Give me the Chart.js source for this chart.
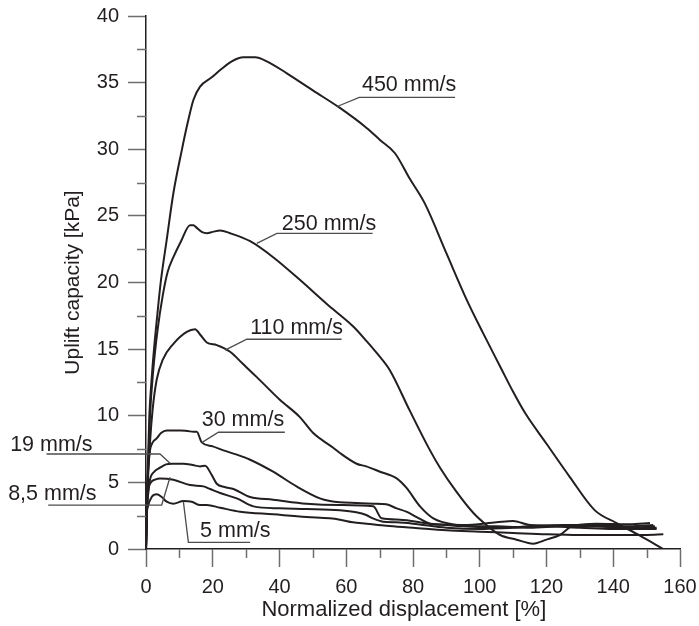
<!DOCTYPE html>
<html>
<head>
<meta charset="utf-8">
<script src="https://cdn.jsdelivr.net/npm/chart.js@4/dist/chart.umd.min.js"></script>
<style>
html,body{margin:0;padding:0;background:#fff;}
canvas{display:block;}
</style>
</head>
<body>
<canvas id="c" width="699" height="626"></canvas>
<script>
// ---- data (Normalized displacement [%] vs Uplift capacity [kPa]) ----
const x450 = [0,0.4,1.0,1.7,2.4,3.4,4.4,6.2,8.2,10.7,12.5,14.2,16.2,19.7,22.5,25.7,29.2,32.7,36.2,42.2,50.1,58.1,66.1,70.1,74.6,79,83.6,90,96.1,101,106.1,110,113.6,120,127,134.5,141,148,155];
const y450 = [0,5,10,12.8,15,17.6,20,23.2,26.7,29.9,32,33.7,34.7,35.4,36.0,36.6,36.9,36.9,36.6,35.7,34.4,33.1,31.6,30.7,29.7,27.8,25.9,22.2,18.7,16.2,13.7,11.8,10.2,7.9,5.4,2.9,1.95,1.0,0];

const x250 = [0,0.5,1.2,2.2,3.5,5,6.5,8.2,10.5,13.2,14.2,15.2,16.7,18.2,20,22.2,25.2,31.2,38.1,46.1,54.1,62.1,66.1,69.5,73.1,79,85.1,88.1,93,98.1,102,106.1,111,116,120,124,128,135,142,148,153];
const y250 = [0,5,10,13.5,16.5,19,20.8,21.9,23.1,24.3,24.3,24.1,23.8,23.7,23.8,23.9,23.7,23.1,21.9,20.2,18.4,16.7,15.6,14.6,13.4,10.4,7.4,6.1,4.3,2.7,1.8,1.05,0.7,0.4,0.7,1.05,1.7,1.7,1.6,1.6,1.6];

const x110 = [0,0.4,1.2,2,3.2,5,8.2,12.2,14.7,16.2,18.2,21.2,25.2,29,33.2,40.1,46.1,50.1,56.1,58.1,63.1,66,70.1,75.1,78,82.1,86.1,93.1,100,105,115,125,135,145,152.5];
const y110 = [0,4,8,10.5,12.7,14.2,15.4,16.3,16.5,16.1,15.5,15.3,14.8,13.9,12.9,11.2,9.9,8.7,7.6,7.2,6.4,6.2,5.8,5.3,4.6,3.2,2.3,1.8,1.7,1.7,1.6,1.7,1.7,1.6,1.7];

const x30 = [0,0.3,0.7,1.2,2,3.2,4.5,6.2,10.2,12.5,14.2,15.2,16.7,20,23.2,27,31.2,38.1,45.1,52.1,55.1,58.1,63,68.1,72,75.1,78,81.1,85.1,90,95,105,115,125,135,145,152];
const y30 = [0,4,6.2,7.4,8,8.3,8.7,8.9,8.9,8.85,8.8,8.8,8.0,7.7,7.4,7.1,6.7,5.8,4.7,3.8,3.6,3.5,3.45,3.4,3.35,3.05,2.8,2.4,1.9,1.8,1.7,1.6,1.7,1.8,1.8,1.7,1.8];

const x19 = [0,0.2,0.6,1.2,2.5,4.2,6,7.7,11.2,14,16.2,17.7,19.7,21.2,23.5,26.2,31.2,38.1,48.1,58.1,68.1,70.6,76.1,85,95,105,110,115,125,135,145,151];
const y19 = [0,2.5,4,5.2,5.8,6.1,6.35,6.4,6.4,6.3,6.2,6.25,5.55,4.9,4.65,4.5,3.9,3.7,3.4,3.3,3.2,2.3,2.2,1.9,1.8,2.0,2.1,1.8,1.75,1.9,1.85,1.95];

const x85 = [0,0.2,0.7,1.5,2.7,4.2,8.2,13.2,17.2,19.2,22.2,27.2,32.2,40.1,48.1,58.1,63,66,68,71,75,80,90,100,110,120,130,140,153];
const y85 = [0,2.5,4.4,5.0,5.2,5.3,5.2,4.8,4.7,4.5,4.2,3.8,3.2,3.05,3.0,2.9,2.75,2.55,2.3,2.05,2.0,1.9,1.6,1.5,1.6,1.7,1.6,1.5,1.5];

const x5 = [0,0.2,0.6,1.7,3.2,4.7,6.2,8.2,11.2,13.7,16.2,18.2,22.2,28.2,38.1,48.1,55,58.1,62,66.1,72,80,90,100,110,120,130,140,150,155];
const y5 = [0,2.4,3.2,3.9,4.1,3.9,3.55,3.4,3.6,3.55,3.3,3.3,3.1,2.8,2.6,2.4,2.3,2.2,2.0,1.9,1.75,1.6,1.4,1.3,1.2,1.1,1.05,1.05,1.05,1.1];

const seriesNames = ['450 mm/s','250 mm/s','110 mm/s','30 mm/s','19 mm/s','8,5 mm/s','5 mm/s'];
const seriesX = [x450,x250,x110,x30,x19,x85,x5];
const seriesY = [y450,y250,y110,y30,y19,y85,y5];

const xTicksMajor = [0,20,40,60,80,100,120,140,160];
const yTicksMajor = [0,5,10,15,20,25,30,35,40];
const xTicksMinor = [10,30,50,70,90,110,130,150];
const yTicksMinor = [2.5,7.5,12.5,17.5,22.5,27.5,32.5,37.5];

// label annotations (text anchor + leader polyline, in data units)
const labelText = ['450 mm/s','250 mm/s','110 mm/s','30 mm/s','19 mm/s','8,5 mm/s','5 mm/s'];
const labelAnchor = [[64.7,34.35],[40.7,23.94],[31.2,16.14],[16.7,9.23],[-40.7,7.38],[-41.3,3.68],[16.2,0.92]];
const labelLeader = [
  [[57.1,33.19],[63.9,33.9],[92.6,33.9]],
  [[33.2,22.94],[39.2,23.69],[67.9,23.69]],
  [[23.7,14.93],[30.2,15.74],[58.6,15.74]],
  [[16.7,7.98],[21.7,8.76],[41.6,8.76]],
  [[7.2,6.43],[4.2,7.13],[-29.8,7.13]],
  [[7.2,5.38],[4.7,3.30],[-29.3,3.30]],
  [[11.2,3.55],[12.7,0.5],[31.2,0.5]]
];

const INK = '#231f20';
const TICK = '#6d6e71';
const FONT = '"Liberation Sans", Arial, sans-serif';

const datasets = seriesNames.map((n,i)=>({
  label:n,
  data: seriesX[i].map((x,j)=>({x:x,y:seriesY[i][j]})),
  borderColor: INK,
  borderWidth: 2,
  pointRadius: 0,
  fill:false,
  cubicInterpolationMode:'monotone'
}));

const extrasPlugin = {
  id:'extras',
  afterDatasetsDraw(chart){
    const ctx = chart.ctx, xs = chart.scales.x, ys = chart.scales.y;
    const ca = chart.chartArea;
    ctx.save();
    // minor ticks
    ctx.strokeStyle = TICK; ctx.lineWidth = 1.5;
    xTicksMinor.forEach(v=>{
      const p = Math.round(xs.getPixelForValue(v))+0.5;
      ctx.beginPath(); ctx.moveTo(p, ca.bottom); ctx.lineTo(p, ca.bottom+9); ctx.stroke();
    });
    yTicksMinor.forEach(v=>{
      const p = Math.round(ys.getPixelForValue(v))+0.5;
      ctx.beginPath(); ctx.moveTo(ca.left-9, p); ctx.lineTo(ca.left, p); ctx.stroke();
    });
    // leaders
    ctx.strokeStyle = '#4d4d4f'; ctx.lineWidth = 1.3;
    labelLeader.forEach(pts=>{
      ctx.beginPath();
      pts.forEach((pt,k)=>{
        const px = xs.getPixelForValue(pt[0]), py = ys.getPixelForValue(pt[1]);
        if(k===0) ctx.moveTo(px,py); else ctx.lineTo(px,py);
      });
      ctx.stroke();
    });
    // texts
    ctx.fillStyle = INK;
    ctx.font = '21.5px ' + FONT;
    ctx.textAlign = 'left'; ctx.textBaseline = 'alphabetic';
    labelText.forEach((t,i)=>{
      ctx.fillText(t, xs.getPixelForValue(labelAnchor[i][0]), ys.getPixelForValue(labelAnchor[i][1]));
    });
    ctx.restore();
  }
};

new Chart(document.getElementById('c'), {
  type:'line',
  data:{datasets},
  plugins:[extrasPlugin],
  options:{
    responsive:false,
    animation:false,
    events:[],
    layout:{padding:{top:16,right:19,left:0,bottom:0}},
    plugins:{legend:{display:false},tooltip:{enabled:false}},
    scales:{
      x:{
        type:'linear', min:0, max:160,
        afterBuildTicks(s){ s.ticks = xTicksMajor.map(v=>({value:v})); },
        afterFit(s){ s.height = 77; s.paddingLeft = 0; s.paddingRight = 0; },
        ticks:{color:INK, font:{family:FONT, size:20}, padding:8, maxRotation:0},
        grid:{display:true, drawOnChartArea:false, drawTicks:true, tickLength:18, tickColor:TICK, tickWidth:1.5},
        border:{display:true, color:INK, width:1.5},
        title:{display:true, text:'Normalized displacement [%]\u00a0\u00a0\u00a0', color:INK, font:{family:FONT, size:22}, padding:{top:0,bottom:3}}
      },
      y:{
        type:'linear', min:0, max:40,
        afterBuildTicks(s){ s.ticks = yTicksMajor.map(v=>({value:v})); },
        afterFit(s){ s.width = 146; s.paddingTop = 0; s.paddingBottom = 0; },
        ticks:{color:INK, font:{family:FONT, size:20}, padding:9},
        grid:{display:true, drawOnChartArea:false, drawTicks:true, tickLength:18, tickColor:TICK, tickWidth:1.5},
        border:{display:true, color:INK, width:1.5},
        title:{display:true, text:'Uplift capacity [kPa]', color:INK, font:{family:FONT, size:21}, padding:{top:61,bottom:0}}
      }
    }
  }
});
</script>
</body>
</html>
